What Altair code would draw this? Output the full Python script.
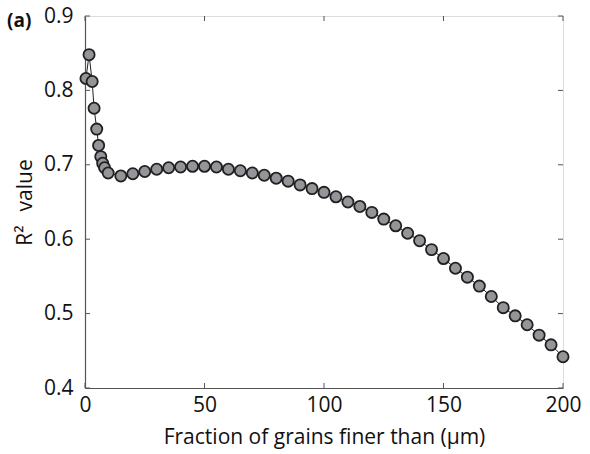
import altair as alt
import pandas as pd

# Data
x_vals = [0.4, 1.7, 3.0, 3.8, 4.9, 5.7, 6.6, 7.4, 8.2, 9.7,
          15, 20, 25, 30, 35, 40, 45, 50, 55, 60, 65, 70, 75, 80, 85, 90, 95,
          100, 105, 110, 115, 120, 125, 130, 135, 140, 145, 150, 155, 160,
          165, 170, 175, 180, 185, 190, 195, 200]
r2_vals = [0.816, 0.848, 0.812, 0.776, 0.748, 0.726, 0.711, 0.702, 0.696, 0.689,
           0.685, 0.688, 0.691, 0.694, 0.696, 0.697, 0.698, 0.698, 0.697, 0.694,
           0.692, 0.689, 0.686, 0.682, 0.678, 0.673, 0.668, 0.663, 0.657, 0.650,
           0.644, 0.636, 0.627, 0.618, 0.608, 0.598, 0.586, 0.574, 0.561, 0.549,
           0.537, 0.523, 0.508, 0.497, 0.485, 0.471, 0.458, 0.442]
x_ticks = [0, 50, 100, 150, 200]
y_ticks = [0.4, 0.5, 0.6, 0.7, 0.8, 0.9]

df = pd.DataFrame({"x": x_vals, "r2": r2_vals})
xt = pd.DataFrame({"t": x_ticks})
yt = pd.DataFrame({"t": y_ticks})

FONT = "Open Sans"
AX = "#555555"
TXT = "#111111"
W, H = 478, 372
FS = 21

xs = alt.Scale(domain=[0, 200], nice=False)
ys = alt.Scale(domain=[0.4, 0.9], nice=False)

base = alt.Chart(df)

line = base.mark_line(color="#231f20", strokeWidth=1).encode(
    x=alt.X("x:Q", scale=xs,
            axis=alt.Axis(values=x_ticks, tickSize=0, labelPadding=6,
                          labelFlush=False,
                          title="Fraction of grains finer than (μm)",
                          titlePadding=11, grid=False, domainColor=AX,
                          domainWidth=1.2, labelFontSize=FS, titleFontSize=FS,
                          labelFont=FONT, titleFont=FONT, labelColor=TXT,
                          titleColor=TXT, titleFontWeight="normal")),
    y=alt.Y("r2:Q", scale=ys,
            axis=alt.Axis(values=y_ticks, format=".1f", tickSize=0,
                          labelPadding=12, labelFlush=False,
                          title="R²\u2002\u2009value", titlePadding=8,
                          grid=False, domainColor=AX, domainWidth=1.2,
                          labelFontSize=FS, titleFontSize=FS, labelFont=FONT,
                          titleFont=FONT, labelColor=TXT, titleColor=TXT,
                          titleFontWeight="normal")),
)

pts = base.mark_point(filled=True, fill="#939598", stroke="#231f20",
                      strokeWidth=1.8, size=125, opacity=1).encode(
    x=alt.X("x:Q", scale=xs), y=alt.Y("r2:Q", scale=ys))

tick_b = alt.Chart(xt).mark_rule(color=AX, strokeWidth=1).encode(
    x=alt.X("t:Q", scale=xs), y=alt.value(H), y2=alt.value(H - 5))
tick_t = alt.Chart(xt).mark_rule(color=AX, strokeWidth=1).encode(
    x=alt.X("t:Q", scale=xs), y=alt.value(0), y2=alt.value(5))
tick_l = alt.Chart(yt).mark_rule(color=AX, strokeWidth=1).encode(
    y=alt.Y("t:Q", scale=ys), x=alt.value(0), x2=alt.value(5))
tick_r = alt.Chart(yt).mark_rule(color=AX, strokeWidth=1).encode(
    y=alt.Y("t:Q", scale=ys), x=alt.value(W), x2=alt.value(W - 5))

label = alt.Chart(pd.DataFrame({"t": ["(a)"]})).mark_text(
    font=FONT, fontSize=19, fontWeight="bold", align="left",
    baseline="middle", color=TXT).encode(
    text="t:N", x=alt.value(-78), y=alt.value(5))

chart = alt.layer(tick_b, tick_t, tick_l, tick_r, line, pts, label).properties(
    width=W, height=H,
    autosize=alt.AutoSizeParams(type="none"),
    padding={"left": 85, "top": 16, "right": 27, "bottom": 66},
).configure_view(stroke=AX, strokeWidth=1.2).configure(background="white")

chart.save("out.html", embed_options={"renderer": "svg", "actions": False})
